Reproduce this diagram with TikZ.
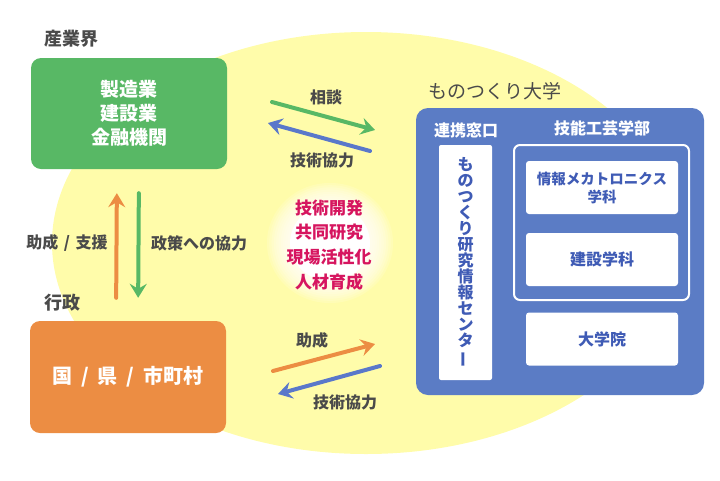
\documentclass[tikz,border=0pt]{standalone}
\usepackage{fontspec}
\setmainfont{Noto Sans CJK JP}
\usepackage{graphicx}
\usetikzlibrary{arrows.meta, positioning}

\definecolor{bgyellow}{HTML}{FFFCAA}
\definecolor{indgreen}{HTML}{58B865}
\definecolor{govorange}{HTML}{EC8D43}
\definecolor{univblue}{HTML}{5B7CC5}
\definecolor{arrowblue}{HTML}{5A78CA}
\definecolor{labelgray}{HTML}{4A4A4A}
\definecolor{deptblue}{HTML}{3F5BB5}
\definecolor{keyred}{HTML}{D6155F}

\begin{document}
\begin{tikzpicture}[
    x=1pt, y=-1pt,
    >={Stealth[length=14pt, width=17pt, inset=5pt]},
    group/.style={font=\fontsize{18}{20}\selectfont\bfseries, text=labelgray},
    flowlabel/.style={font=\fontsize{16}{18}\selectfont\bfseries, text=labelgray},
    bigbox/.style={rectangle, rounded corners=10pt, minimum width=196pt, inner sep=0pt, text=white, font=\fontsize{19}{24}\selectfont\bfseries, align=center},
    unitlabel/.style={text=white, font=\fontsize{16}{18}\selectfont\bfseries},
    deptbox/.style={rectangle, fill=white, rounded corners=3pt, minimum width=152pt, minimum height=53pt, inner sep=0pt, text=deptblue, font=\fontsize{16}{18}\selectfont\bfseries, align=center},
    flow/.style={->, line width=4pt, line cap=round}
]
\useasboundingbox (0,0) rectangle (720,480);

% 背景
\fill[bgyellow] (366,243) ellipse (314 and 211);
\fill[white] (330,243) ellipse (40 and 38);
\foreach \k in {1,...,10}
    \fill[white, opacity=0.15] (330,243) ellipse ({40+2.3*\k} and {38+2.2*\k});

% 産業界・行政
\node[group, anchor=west] (indlabel) at (41,39) {産業界};
\node[bigbox, fill=indgreen, minimum height=111pt] (ind) at (129,113.5) {製造業\\建設業\\金融機関};
\node[group, anchor=west] (govlabel) at (41,303) {行政};
\node[bigbox, fill=govorange, minimum height=112pt, font=\fontsize{20}{24}\selectfont\bfseries] (gov) at (128,377) {国\hspace{0.45em}/\hspace{0.45em}県\hspace{0.45em}/\hspace{0.45em}市町村};

% ものつくり大学
\node[font=\fontsize{19}{21}\selectfont, text=labelgray, anchor=west] (univlabel) at (425,91) {ものつくり大学};
\node[rectangle, fill=univblue, rounded corners=12pt, minimum width=288pt, minimum height=287pt] (univ) at (560,251.5) {};
\node[unitlabel] (liaison) at (466,130) {連携窓口};
\node[unitlabel] (faculty) at (602,128) {技能工芸学部};
\node[rectangle, fill=white, rounded corners=2pt, minimum width=53pt, minimum height=235pt] (center) at (465.5,262.5) {};
\node[text=deptblue, font=\fontsize{16}{16}\selectfont\bfseries, align=center] (centertxt) at (center) {も\\の\\つ\\く\\り\\研\\究\\情\\報\\セ\\ン\\タ\\\rotatebox[origin=c]{90}{ー}};
\node[rectangle, draw=white, line width=2pt, rounded corners=6pt, minimum width=175pt, minimum height=155pt] (facbox) at (601.5,222.5) {};
\node[deptbox, font=\fontsize{14.5}{18}\selectfont\bfseries] (mecha) at (602,187.5) {情報メカトロニクス\\学科};
\node[deptbox] (civil) at (602,259.5) {建設学科};
\node[deptbox] (grad) at (602,339) {大学院};

% 連携内容
\node[text=keyred, font=\fontsize{17}{24.7}\selectfont\bfseries, align=center] (topics) at (329,245) {技術開発\\共同研究\\現場活性化\\人材育成};

% 矢印の端点
\coordinate (consA) at (272,102);
\coordinate (consB) at (375,130);
\coordinate (techA) at (370,151);
\coordinate (techB) at (268,123);
\coordinate (grantA) at (273,371);
\coordinate (grantB) at (375,344);
\coordinate (tech2A) at (380,366);
\coordinate (tech2B) at (278,394);

% 矢印
\draw[flow, color=indgreen] (consA) -- (consB);
\draw[flow, color=arrowblue] (techA) -- (techB);
\draw[flow, color=govorange] (grantA) -- (grantB);
\draw[flow, color=arrowblue] (tech2A) -- (tech2B);
\draw[flow, color=govorange, shorten <=23pt, shorten >=24pt] ([xshift=-12pt]gov.north) -- ([xshift=-12pt]ind.south);
\draw[flow, color=indgreen, shorten <=24pt, shorten >=23pt] ([xshift=10pt]ind.south) -- ([xshift=10pt]gov.north);

% ラベル
\node[flowlabel] (conslabel) at (326,97) {相談};
\node[flowlabel] (techlabel) at (322,160) {技術協力};
\node[flowlabel] (grantlabel) at (312,340) {助成};
\node[flowlabel] (tech2label) at (345,402) {技術協力};
\node[flowlabel] (supportlabel) at (67,243) {助成\hspace{0.35em}/\hspace{0.35em}支援};
\node[flowlabel] (policylabel) at (199,243) {政策への協力};

\end{tikzpicture}
\end{document}
